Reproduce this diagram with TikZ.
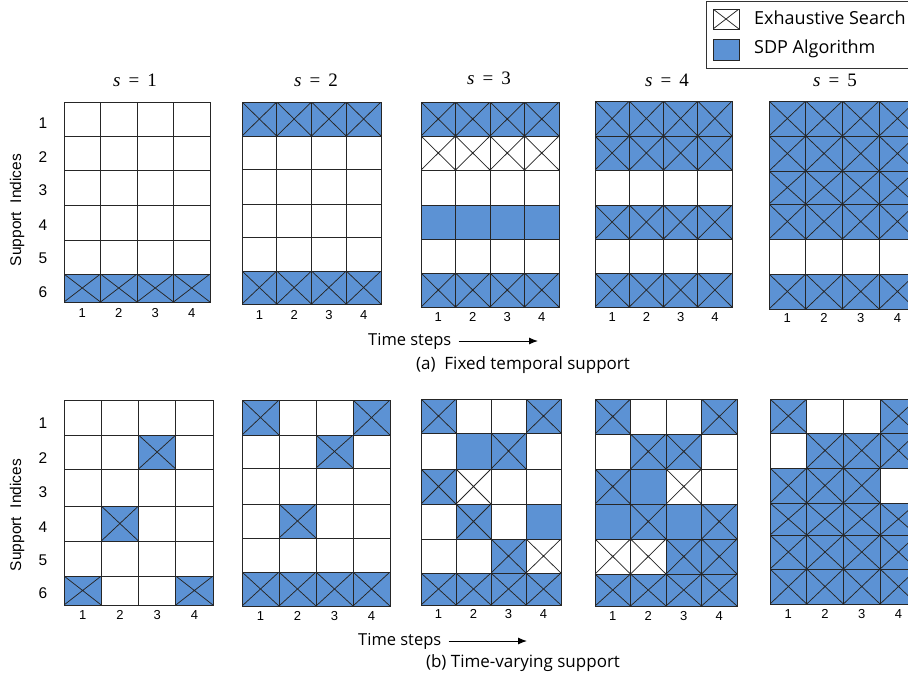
\documentclass[tikz,border=0pt]{standalone}
\usepackage{fontspec}
\setmainfont{Open Sans}
\newfontfamily\arialf{Liberation Sans}
\newfontfamily\seriff{Liberation Serif}
\usetikzlibrary{arrows.meta}
\definecolor{sdp}{RGB}{92,146,212}
\tikzset{
  gl/.style={draw=black!85, line width=0.9pt},
  xcross/.style={path picture={\draw[line width=0.75pt] (path picture bounding box.north west) -- (path picture bounding box.south east) (path picture bounding box.south west) -- (path picture bounding box.north east);}},
  cell0/.style={gl, fill=white},
  cellB/.style={gl, fill=sdp},
  cellX/.style={gl, fill=white, xcross},
  cellC/.style={gl, fill=sdp, xcross},
  ttl/.style={inner sep=0pt, font=\seriff\fontsize{19}{21}\selectfont},
  rowlab/.style={inner sep=0pt, font=\arialf\fontsize{15.5}{17}\selectfont},
  collab/.style={inner sep=0pt, font=\arialf\fontsize{13}{15}\selectfont},
  axlab/.style={inner sep=0pt, font=\arialf\fontsize{15.5}{17}\selectfont},
  captext/.style={inner sep=0pt, font=\fontsize{17}{19}\selectfont},
  tstext/.style={inner sep=0pt, anchor=west, font=\fontsize{16.5}{19}\selectfont},
  legtext/.style={inner sep=0pt, anchor=west, font=\fontsize{18}{20}\selectfont},
}
\newcommand\stitle[1]{{\itshape s}\hspace{0.42em}=\hspace{0.42em}#1}
\newcommand\gridrow[5]{%
  \foreach \cc [count=\i from 0] in {#5}{%
    \edef\cellopt{cell\cc}%
    \expandafter\path\expandafter[\cellopt] ({#1+\i*#2},#3) rectangle ({#1+(\i+1)*#2},#4);
  }}
\newcommand\collabels[3]{%
  \foreach \i in {1,2,3,4}{\node[collab] at ({#1+(\i-0.5)*#2},#3) {\i};}}
\begin{document}
\begin{tikzpicture}[x=1pt,y=-1pt]
\useasboundingbox (0,0) rectangle (908,683);
\clip (0,0) rectangle (908,683);
\fill[white] (0,0) rectangle (908,683);

% ---------- legend ----------
\draw[draw=black!80, line width=0.9pt] (706,1) rectangle (915,68);
\path[cellX] (713,9) rectangle (739,29);
\path[cellB] (713,39) rectangle (739,60);
\node[legtext] (l1) at (754,18) {Exhaustive Search};
\node[legtext] (l2) at (754,49) {SDP Algorithm};

% ---------- titles ----------
\node[ttl] (t1) at (135,80) {\stitle{1}};
\node[ttl] (t2) at (316,80) {\stitle{2}};
\node[ttl] (t3) at (489,78) {\stitle{3}};
\node[ttl] (t4) at (667,80) {\stitle{4}};
\node[ttl] (t5) at (835,80) {\stitle{5}};

% ---------- row labels ----------
\foreach \r/\ya/\yb in {1/123/423,2/157/458,3/190/492,4/225/527,5/258/560,6/292/593}{
  \node[rowlab] at (43,\ya) {\r};
  \node[rowlab] at (43,\yb) {\r};
}
\node[axlab, rotate=90] (sa) at (17,210) {Support\ \ Indices};
\node[axlab, rotate=90] (sb) at (17,515) {Support\ \ Indices};

% ================= (a) fixed temporal support =================
% s=1
\gridrow{64}{36.5}{102}{136}{0,0,0,0}
\gridrow{64}{36.5}{136}{170}{0,0,0,0}
\gridrow{64}{36.5}{170}{205}{0,0,0,0}
\gridrow{64}{36.5}{205}{240}{0,0,0,0}
\gridrow{64}{36.5}{240}{274}{0,0,0,0}
\gridrow{64}{36.5}{274}{302}{C,C,C,C}
\collabels{64}{36.5}{313}
% s=2
\gridrow{242}{34.75}{102}{136}{C,C,C,C}
\gridrow{242}{34.75}{136}{169}{0,0,0,0}
\gridrow{242}{34.75}{169}{204}{0,0,0,0}
\gridrow{242}{34.75}{204}{237}{0,0,0,0}
\gridrow{242}{34.75}{237}{271}{0,0,0,0}
\gridrow{242}{34.75}{271}{304}{C,C,C,C}
\collabels{242}{34.75}{315}
% s=3
\gridrow{421}{34.5}{102}{136}{C,C,C,C}
\gridrow{421}{34.5}{136}{170}{X,X,X,X}
\gridrow{421}{34.5}{170}{205}{0,0,0,0}
\gridrow{421}{34.5}{205}{239}{B,B,B,B}
\gridrow{421}{34.5}{239}{273}{0,0,0,0}
\gridrow{421}{34.5}{273}{307}{C,C,C,C}
\collabels{421}{34.5}{317}
% s=4
\gridrow{595}{34.25}{101}{136}{C,C,C,C}
\gridrow{595}{34.25}{136}{170}{C,C,C,C}
\gridrow{595}{34.25}{170}{205}{0,0,0,0}
\gridrow{595}{34.25}{205}{239}{C,C,C,C}
\gridrow{595}{34.25}{239}{273}{0,0,0,0}
\gridrow{595}{34.25}{273}{307}{C,C,C,C}
\collabels{595}{34.25}{317}
% s=5
\gridrow{769}{36.7}{101}{136}{C,C,C,C}
\gridrow{769}{36.7}{136}{171}{C,C,C,C}
\gridrow{769}{36.7}{171}{204}{C,C,C,C}
\gridrow{769}{36.7}{204}{239}{C,C,C,C}
\gridrow{769}{36.7}{239}{274}{0,0,0,0}
\gridrow{769}{36.7}{274}{309}{C,C,C,C}
\collabels{769}{36.7}{318}

\node[tstext] (tsa) at (368,341) {Time steps};
\coordinate (tsaend) at (538,341);
\draw[line width=1pt, -{Latex[length=9pt,width=7pt]}] ([xshift=7pt]tsa.east) -- (tsaend);
\node[captext] (capa) at (523,365) {(a)\ \ Fixed temporal support};

% ================= (b) time-varying support =================
% s=1
\gridrow{64}{37.25}{400}{435}{0,0,0,0}
\gridrow{64}{37.25}{435}{469}{0,0,C,0}
\gridrow{64}{37.25}{469}{506}{0,0,0,0}
\gridrow{64}{37.25}{506}{541}{0,C,0,0}
\gridrow{64}{37.25}{541}{576}{0,0,0,0}
\gridrow{64}{37.25}{576}{605}{C,0,0,C}
\collabels{64}{37.25}{615}
% s=2
\gridrow{242}{37}{400}{435}{C,0,0,C}
\gridrow{242}{37}{435}{468}{0,0,C,0}
\gridrow{242}{37}{468}{504}{0,0,0,0}
\gridrow{242}{37}{504}{538}{0,C,0,0}
\gridrow{242}{37}{538}{572}{0,0,0,0}
\gridrow{242}{37}{572}{606}{C,C,C,C}
\collabels{242}{37}{616}
% s=3
\gridrow{421}{35}{399}{433}{C,0,0,C}
\gridrow{421}{35}{433}{469}{0,B,C,0}
\gridrow{421}{35}{469}{504}{C,X,0,0}
\gridrow{421}{35}{504}{539}{0,C,0,B}
\gridrow{421}{35}{539}{573}{0,0,C,X}
\gridrow{421}{35}{573}{605}{C,C,C,C}
\collabels{421}{35}{614}
% s=4
\gridrow{595}{35.5}{399}{434}{C,0,0,C}
\gridrow{595}{35.5}{434}{469}{0,C,C,0}
\gridrow{595}{35.5}{469}{504}{C,B,X,0}
\gridrow{595}{35.5}{504}{539}{B,C,B,C}
\gridrow{595}{35.5}{539}{574}{X,X,C,C}
\gridrow{595}{35.5}{574}{606}{C,C,C,C}
\collabels{595}{35.5}{616}
% s=5
\gridrow{770}{36.7}{399}{433}{C,0,0,C}
\gridrow{770}{36.7}{433}{468}{0,C,C,C}
\gridrow{770}{36.7}{468}{503}{C,C,C,0}
\gridrow{770}{36.7}{503}{535}{C,C,C,C}
\gridrow{770}{36.7}{535}{569}{C,C,C,C}
\gridrow{770}{36.7}{569}{604}{C,C,C,C}
\collabels{770}{36.7}{614}

\node[tstext] (tsb) at (358,641) {Time steps};
\coordinate (tsbend) at (527,641);
\draw[line width=1pt, -{Latex[length=9pt,width=7pt]}] ([xshift=7pt]tsb.east) -- (tsbend);
\node[captext] (capb) at (523,663) {(b) Time-varying support};
\end{tikzpicture}
\end{document}
